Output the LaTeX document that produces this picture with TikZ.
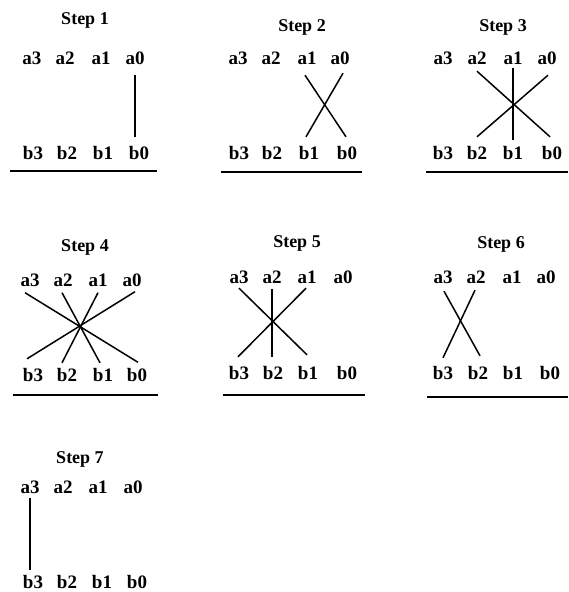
\documentclass[tikz,border=0pt]{standalone}
\usepackage{fontspec}
\setmainfont{Liberation Serif}
\begin{document}
\begin{tikzpicture}[x=1pt,y=-1pt,
  lbl/.style={font=\fontsize{19}{19}\selectfont\bfseries, inner sep=0pt, text height=13pt, text depth=0pt},
  ttl/.style={font=\fontsize{18}{18}\selectfont\bfseries, inner sep=0pt, text height=13pt, text depth=0pt},
  wire/.style={line width=1.5pt},
  rule/.style={line width=2.6pt}]
\useasboundingbox (0,0) rectangle (568,592);

% one multiplication step: id, title, title position, a-columns, a-row, b-columns, b-row
\newcommand\stepblock[7]{%
  \node[ttl] (#1t) at (#3) {#2};
  \foreach \xx [count=\i from 0] in {#4} {
    \pgfmathtruncatemacro\k{3-\i}
    \node[lbl] (#1a\k) at (\xx,#5) {a\k};
  }
  \foreach \xx [count=\i from 0] in {#6} {
    \pgfmathtruncatemacro\k{3-\i}
    \node[lbl] (#1b\k) at (\xx,#7) {b\k};
  }
}
% crossing product line from an a-digit to a b-digit, with small offsets at both ends
\newcommand\cross[4]{\draw[wire] ([shift={(#2)}]#1.south) -- ([shift={(#4)}]#3.north);}
% straight product line below an a-digit, trimmed at both ends
\newcommand\straight[4]{\draw[wire, shorten <=#3pt, shorten >=#4pt] (#1.south) -- (#1.south |- #2.north);}

% Step 1
\stepblock{p1}{Step 1}{85,18}{32,65,101,135}{58}{33,67,103,139}{153}
\straight{p1a0}{p1b0}{10.5}{9.5}
\draw[rule] (10,171) -- (157,171);

% Step 2
\stepblock{p2}{Step 2}{302,25}{238,271,307,340}{58}{239,272,309,347}{153}
\cross{p2a1}{-2,10.5}{p2b0}{-1,-9.5}
\cross{p2a0}{3,8.5}{p2b1}{-3,-9.5}
\draw[rule] (221,172) -- (362,172);

% Step 3
\stepblock{p3}{Step 3}{503,25}{443,477,513,547}{58}{443,477,513,552}{153}
\cross{p3a2}{0,6.5}{p3b0}{-2,-9.5}
\straight{p3a1}{p3b1}{3.5}{6.5}
\cross{p3a0}{1,10.5}{p3b2}{0,-9.5}
\draw[rule] (426,172) -- (568,172);

% Step 4
\stepblock{p4}{Step 4}{85,245}{30,63,98,132}{280}{33,67,103,137}{375}
\cross{p4a3}{-5,6}{p4b0}{1,-6}
\cross{p4a2}{-1,6}{p4b1}{-3,-5.5}
\cross{p4a1}{0,6}{p4b2}{-5,-5.5}
\cross{p4a0}{3,5}{p4b3}{-6,-9.5}
\draw[rule] (13,395) -- (158,395);

% Step 5
\stepblock{p5}{Step 5}{297,241}{239,272,307,343}{277}{239,273,308,347}{373}
\cross{p5a3}{0,4.5}{p5b1}{-1,-11.5}
\straight{p5a2}{p5b2}{5.5}{9.5}
\cross{p5a1}{-1,4.5}{p5b3}{-1,-9.5}
\draw[rule] (223,395) -- (365,395);

% Step 6
\stepblock{p6}{Step 6}{501,242}{443,476,512,546}{277}{443,478,513,550}{373}
\cross{p6a3}{1,7.5}{p6b2}{2,-10.5}
\cross{p6a2}{-1,6.5}{p6b3}{0,-8.5}
\draw[rule] (427,397) -- (568,397);

% Step 7
\stepblock{p7}{Step 7}{80,457}{30,63,98,133}{487}{33,67,102,137}{582}
\straight{p7a3}{p7b3}{4.5}{5.5}
\end{tikzpicture}
\end{document}
